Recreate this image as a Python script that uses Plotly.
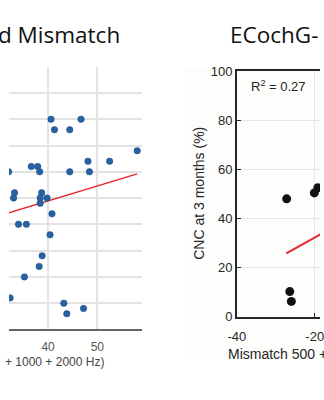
import plotly.graph_objects as go

# Left panel data (Mismatch vs CNC)
left_x = [32.0, 40.6, 41.3, 44.4, 46.7, 58.1, 36.6, 37.9, 38.3, 44.4, 48.1, 48.4, 52.5,
          33.2, 33.0, 38.7, 38.4, 39.8, 38.4, 40.8, 34.0, 35.6, 40.4, 38.8, 38.2, 35.2,
          32.3, 43.2, 43.8, 47.2]
left_y = [60, 80, 76, 76, 80, 68, 62, 62, 60, 60, 64, 60, 64,
          52, 50, 52, 50, 50, 48, 44, 40, 40, 36, 28, 24, 20,
          12, 10, 6, 8]
left_fit_x = [20.0, 58.1]
left_fit_y = [37.5, 59.2]
left_xticks = [40, 50]

# Right panel data (ECochG)
right_x = [-27.2, -26.4, -26.0, -20.1, -19.2]
right_y = [48, 10.2, 6.2, 50.4, 52.5]
right_fit_x = [-27.3, -18.0]
right_fit_y = [25.8, 34.0]
right_xticks = [-40, -20]
right_xticklabels = ["-40", "-20"]
right_yticks = [0, 20, 40, 60, 80, 100]

W, H = 324, 400
def px(x):
    return x / W
def py(y):
    return 1 - y / H

fig = go.Figure()

fig.add_trace(go.Scatter(
    x=left_fit_x, y=left_fit_y, mode="lines",
    line=dict(color="#e8262a", width=1.5),
    xaxis="x", yaxis="y", showlegend=False, hoverinfo="skip"))
fig.add_trace(go.Scatter(
    x=left_x, y=left_y, mode="markers",
    marker=dict(color="#2762a3", size=6.5, line=dict(color="#1d4f86", width=0.5)),
    xaxis="x", yaxis="y", showlegend=False))

fig.add_trace(go.Scatter(
    x=right_fit_x, y=right_fit_y, mode="lines",
    line=dict(color="#e8262a", width=2),
    xaxis="x2", yaxis="y2", showlegend=False, hoverinfo="skip"))
fig.add_trace(go.Scatter(
    x=right_x, y=right_y, mode="markers",
    marker=dict(color="#111111", size=9),
    xaxis="x2", yaxis="y2", showlegend=False))

grid_l = "#e3e3e3"
grid_r = "#e6e6e6"
dark = "#262626"

fig.update_layout(
    width=W, height=H,
    margin=dict(l=0, r=0, t=0, b=0),
    paper_bgcolor="white",
    plot_bgcolor="rgba(0,0,0,0)",
    xaxis=dict(
        domain=[0, px(139)], range=[32.07, 59.16],
        tickvals=left_xticks, showgrid=True, gridcolor=grid_l, gridwidth=1.5,
        showline=True, linecolor="#666666", linewidth=2, zeroline=False,
        ticks="", ticklabelstandoff=5,
        tickfont=dict(family="Liberation Sans, Arial", size=12, color="#555555"),
        anchor="y"),
    yaxis=dict(
        domain=[py(335), py(62)], range=[0, 100], dtick=10,
        showgrid=True, gridcolor=grid_l, gridwidth=1.5, showticklabels=False,
        showline=False, zeroline=False, ticks="", anchor="x"),
    xaxis2=dict(
        domain=[px(237.3), 1], range=[-40, -18.65],
        tickvals=right_xticks, ticktext=right_xticklabels,
        showgrid=True, gridcolor=grid_r, gridwidth=1.2,
        showline=True, linecolor=dark, linewidth=1.5, mirror=True, zeroline=False,
        ticks="inside", ticklen=4, tickcolor=dark, ticklabelstandoff=7,
        ticklabeloverflow="allow",
        tickfont=dict(family="Liberation Sans, Arial", size=13, color=dark),
        anchor="y2"),
    yaxis2=dict(
        domain=[py(321.7), py(66.7)], range=[0, 100],
        tickvals=right_yticks,
        showgrid=True, gridcolor=grid_r, gridwidth=1.2,
        showline=True, linecolor=dark, linewidth=1.5, zeroline=False,
        ticks="inside", ticklen=4, tickcolor=dark,
        tickfont=dict(family="Liberation Sans, Arial", size=13, color=dark),
        anchor="x2"),
    shapes=[dict(type="rect", xref="paper", yref="paper", layer="below",
                 x0=px(181.7), x1=1, y0=py(365), y1=py(63),
                 fillcolor="#fdfdfb", line=dict(width=0))],
    annotations=[
        dict(text="d Mismatch", xref="paper", yref="paper", x=px(118), y=py(29),
             xanchor="right", yanchor="middle", showarrow=False,
             font=dict(family="Open Sans", size=22.5, color="#111111")),
        dict(text="ECochG-", xref="paper", yref="paper", x=px(228), y=py(29),
             xanchor="left", yanchor="middle", showarrow=False,
             font=dict(family="Open Sans", size=22.5, color="#111111")),
        dict(text="+ 1000 + 2000 Hz)", xref="paper", yref="paper", x=px(101), y=py(369),
             xanchor="right", yanchor="middle", showarrow=False,
             font=dict(family="Liberation Sans, Arial", size=12, color="#444444")),
        dict(text="Mismatch 500 +", xref="paper", yref="paper", x=px(226), y=py(360),
             xanchor="left", yanchor="middle", showarrow=False,
             font=dict(family="Liberation Sans, Arial", size=14, color=dark)),
        dict(text="CNC at 3 months (%)", xref="paper", yref="paper", x=px(198), y=py(194),
             xanchor="center", yanchor="middle", showarrow=False, textangle=-90,
             font=dict(family="Liberation Sans, Arial", size=14, color=dark)),
        dict(text="R<sup>2</sup> = 0.27", xref="paper", yref="paper", x=px(250), y=py(82),
             xanchor="left", yanchor="middle", showarrow=False,
             font=dict(family="Liberation Sans, Arial", size=13, color=dark)),
    ],
)

fig.write_html("out.html")
